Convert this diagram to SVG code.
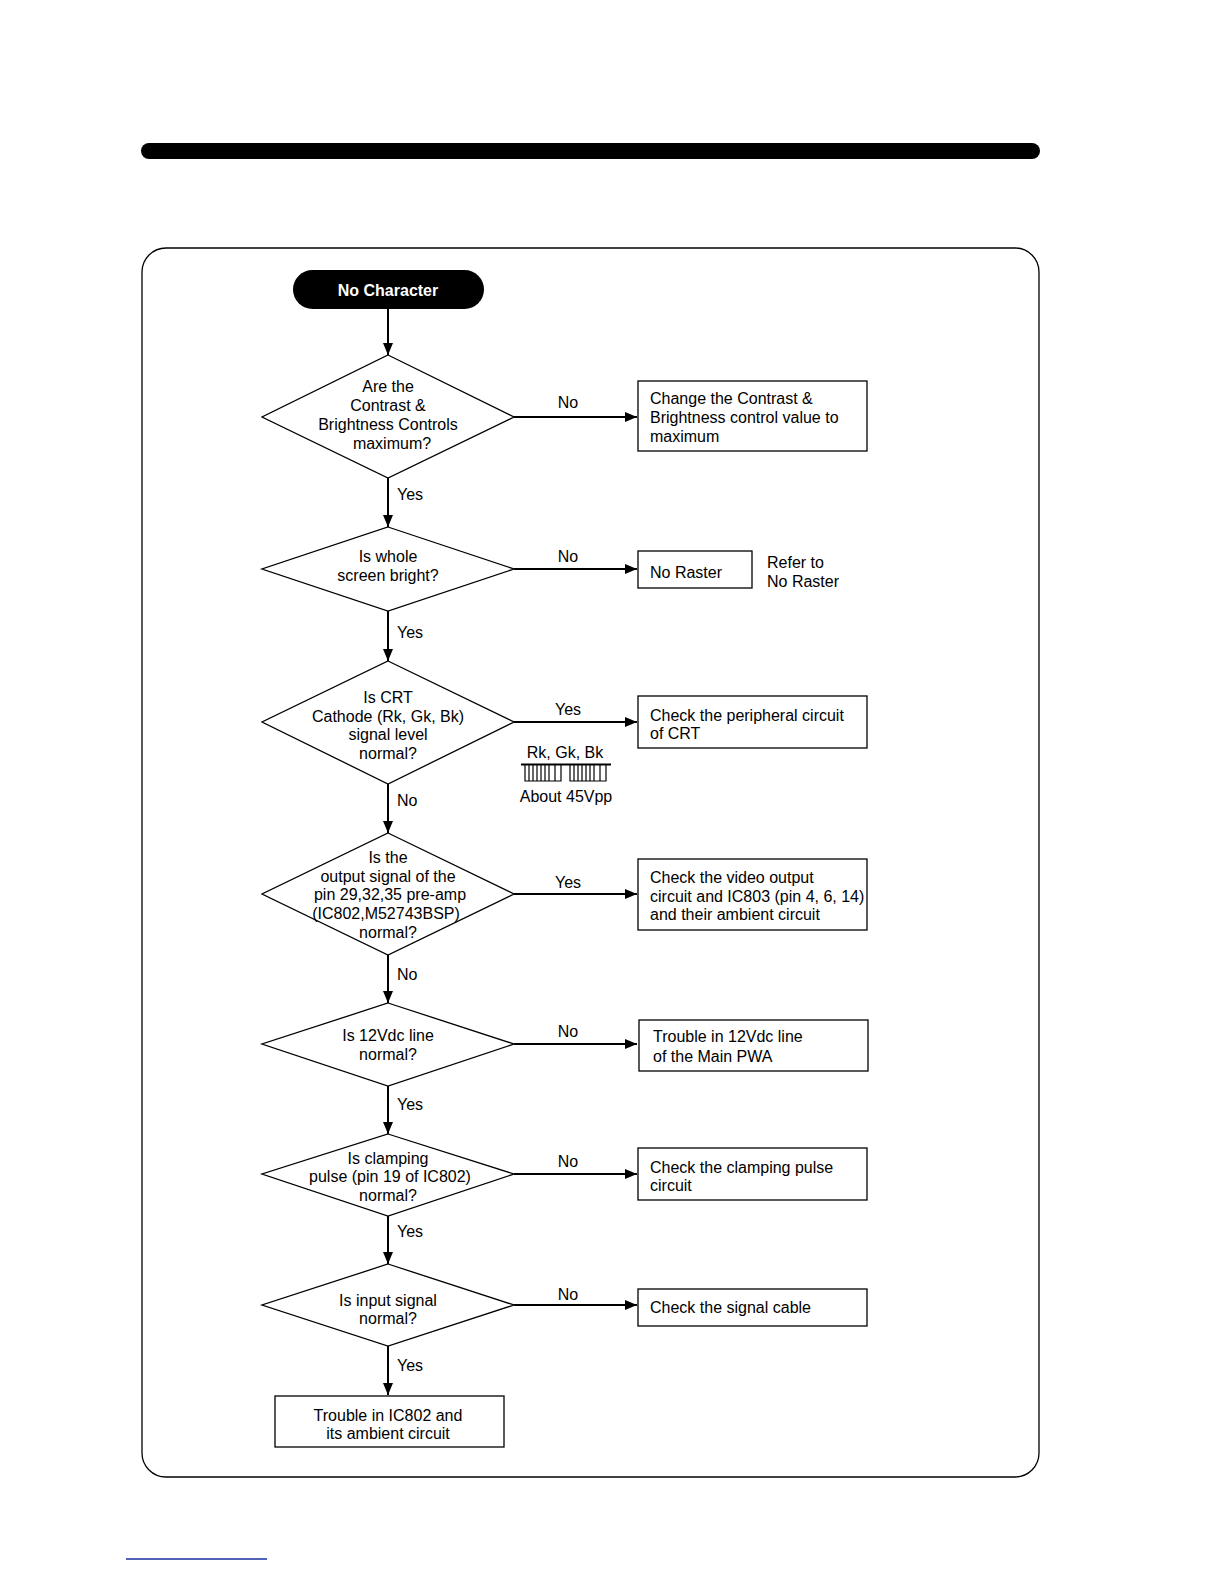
<svg xmlns="http://www.w3.org/2000/svg" width="1224" height="1584" viewBox="0 0 1224 1584">
<defs>
<marker id="ah" markerWidth="12" markerHeight="10" refX="12" refY="5" orient="auto" markerUnits="userSpaceOnUse">
<path d="M0,0 L12,5 L0,10 Z" fill="#000"/>
</marker>
<style>
text{font-family:"Liberation Sans",Arial,sans-serif;font-size:16px;fill:#000}
.c{text-anchor:middle}
.d{fill:#fff;stroke:#000;stroke-width:1.3}
.b{fill:#fff;stroke:#000;stroke-width:1.3}
.ln{stroke:#000;stroke-width:2;fill:none;marker-end:url(#ah)}
.w{fill:none;stroke:#000;stroke-width:1.2}
</style>
</defs>
<rect width="1224" height="1584" fill="#fff"/>
<rect x="141" y="143" width="899" height="16" rx="8" fill="#000"/>
<rect x="142" y="248" width="897" height="1229" rx="24" fill="none" stroke="#000" stroke-width="1.3"/>
<line x1="126" y1="1559" x2="267" y2="1559" stroke="#1a2fa0" stroke-width="1.5"/>

<g id="connectors">
<line class="ln" x1="388" y1="309" x2="388" y2="355"/>
<line class="ln" x1="514" y1="417" x2="637" y2="417"/>
<line class="ln" x1="388" y1="478" x2="388" y2="527"/>
<line class="ln" x1="514" y1="569" x2="637" y2="569"/>
<line class="ln" x1="388" y1="611" x2="388" y2="661"/>
<line class="ln" x1="514" y1="722" x2="637" y2="722"/>
<line class="ln" x1="388" y1="784" x2="388" y2="833"/>
<line class="ln" x1="514" y1="894" x2="637" y2="894"/>
<line class="ln" x1="388" y1="955" x2="388" y2="1003"/>
<line class="ln" x1="514" y1="1044" x2="637" y2="1044"/>
<line class="ln" x1="388" y1="1086" x2="388" y2="1134"/>
<line class="ln" x1="514" y1="1174" x2="637" y2="1174"/>
<line class="ln" x1="388" y1="1216" x2="388" y2="1264"/>
<line class="ln" x1="514" y1="1305" x2="637" y2="1305"/>
<line class="ln" x1="388" y1="1346" x2="388" y2="1395"/>
<text class="c" x="568" y="408">No</text>
<text x="397" y="500">Yes</text>
<text class="c" x="568" y="562">No</text>
<text x="397" y="638">Yes</text>
<text class="c" x="568" y="715">Yes</text>
<text x="397" y="806">No</text>
<text class="c" x="568" y="888">Yes</text>
<text x="397" y="980">No</text>
<text class="c" x="568" y="1037">No</text>
<text x="397" y="1110">Yes</text>
<text class="c" x="568" y="1167">No</text>
<text x="397" y="1237">Yes</text>
<text class="c" x="568" y="1300">No</text>
<text x="397" y="1371">Yes</text>
</g>

<g id="start">
<rect x="293" y="270" width="191" height="39" rx="19.5" fill="#000"/>
<text class="c" x="388" y="296" style="fill:#fff;font-weight:bold">No Character</text>
</g>

<g id="d1">
<polygon class="d" points="388,355 514,417 388,478 262,417"/>
<text class="c" x="388" y="392">Are the</text>
<text class="c" x="388" y="411">Contrast &amp;</text>
<text class="c" x="388" y="430">Brightness Controls</text>
<text class="c" x="392" y="449">maximum?</text>
</g>
<g id="b1">
<rect class="b" x="638" y="381" width="229" height="70"/>
<text x="650" y="404">Change the Contrast &amp;</text>
<text x="650" y="423">Brightness control  value to</text>
<text x="650" y="442">maximum</text>
</g>

<g id="d2">
<polygon class="d" points="388,527 514,569 388,611 262,569"/>
<text class="c" x="388" y="562">Is whole</text>
<text class="c" x="388" y="581">screen bright?</text>
</g>
<g id="b2">
<rect class="b" x="638" y="551" width="114" height="37"/>
<text x="650" y="578">No Raster</text>
</g>
<g id="note2">
<text x="767" y="568">Refer to</text>
<text x="767" y="587">No Raster</text>
</g>

<g id="d3">
<polygon class="d" points="388,661 514,722 388,784 262,722"/>
<text class="c" x="388" y="703">Is CRT</text>
<text class="c" x="388" y="722">Cathode (Rk, Gk, Bk)</text>
<text class="c" x="388" y="740">signal level</text>
<text class="c" x="388" y="759">normal?</text>
</g>
<g id="b3">
<rect class="b" x="638" y="696" width="229" height="52"/>
<text x="650" y="721">Check the peripheral circuit</text>
<text x="650" y="739">of CRT</text>
</g>
<g id="wave">
<text class="c" x="565" y="758">Rk, Gk, Bk</text>
<line x1="521" y1="764.5" x2="611" y2="764.5" stroke="#000" stroke-width="2"/>
<path class="w" d="M525,765 V781 H561 V765 M529,765 V781 M533,765 V781 M537,765 V781 M541,765 V781 M545,765 V781 M549,765 V781 M555,765 V781 M570,765 V781 H606 V765 M574,765 V781 M578,765 V781 M582,765 V781 M586,765 V781 M590,765 V781 M594,765 V781 M600,765 V781"/>
<text class="c" x="566" y="802">About 45Vpp</text>
</g>

<g id="d4">
<polygon class="d" points="388,833 514,894 388,955 262,894"/>
<text class="c" x="388" y="863">Is the</text>
<text class="c" x="388" y="882">output signal of the</text>
<text class="c" x="390" y="900">pin 29,32,35  pre-amp</text>
<text class="c" x="386" y="919">(IC802,M52743BSP)</text>
<text class="c" x="388" y="938">normal?</text>
</g>
<g id="b4">
<rect class="b" x="638" y="859" width="229" height="71"/>
<text x="650" y="883">Check the video output</text>
<text x="650" y="902">circuit and IC803 (pin 4, 6, 14)</text>
<text x="650" y="920">and their ambient circuit</text>
</g>

<g id="d5">
<polygon class="d" points="388,1003 514,1044 388,1086 262,1044"/>
<text class="c" x="388" y="1041">Is 12Vdc line</text>
<text class="c" x="388" y="1060">normal?</text>
</g>
<g id="b5">
<rect class="b" x="639" y="1020" width="229" height="51"/>
<text x="653" y="1042">Trouble in 12Vdc line</text>
<text x="653" y="1062">of the Main PWA</text>
</g>

<g id="d6">
<polygon class="d" points="388,1134 514,1174 388,1216 262,1174"/>
<text class="c" x="388" y="1164">Is clamping</text>
<text class="c" x="390" y="1182">pulse (pin 19 of IC802)</text>
<text class="c" x="388" y="1201">normal?</text>
</g>
<g id="b6">
<rect class="b" x="638" y="1148" width="229" height="52"/>
<text x="650" y="1173">Check the clamping pulse</text>
<text x="650" y="1191">circuit</text>
</g>

<g id="d7">
<polygon class="d" points="388,1264 514,1305 388,1346 262,1305"/>
<text class="c" x="388" y="1306">Is input signal</text>
<text class="c" x="388" y="1324">normal?</text>
</g>
<g id="b7">
<rect class="b" x="638" y="1289" width="229" height="37"/>
<text x="650" y="1313">Check the signal cable</text>
</g>

<g id="end">
<rect class="b" x="275" y="1396" width="229" height="51"/>
<text class="c" x="388" y="1421">Trouble in  IC802 and</text>
<text class="c" x="388" y="1439">its ambient circuit</text>
</g>
</svg>
